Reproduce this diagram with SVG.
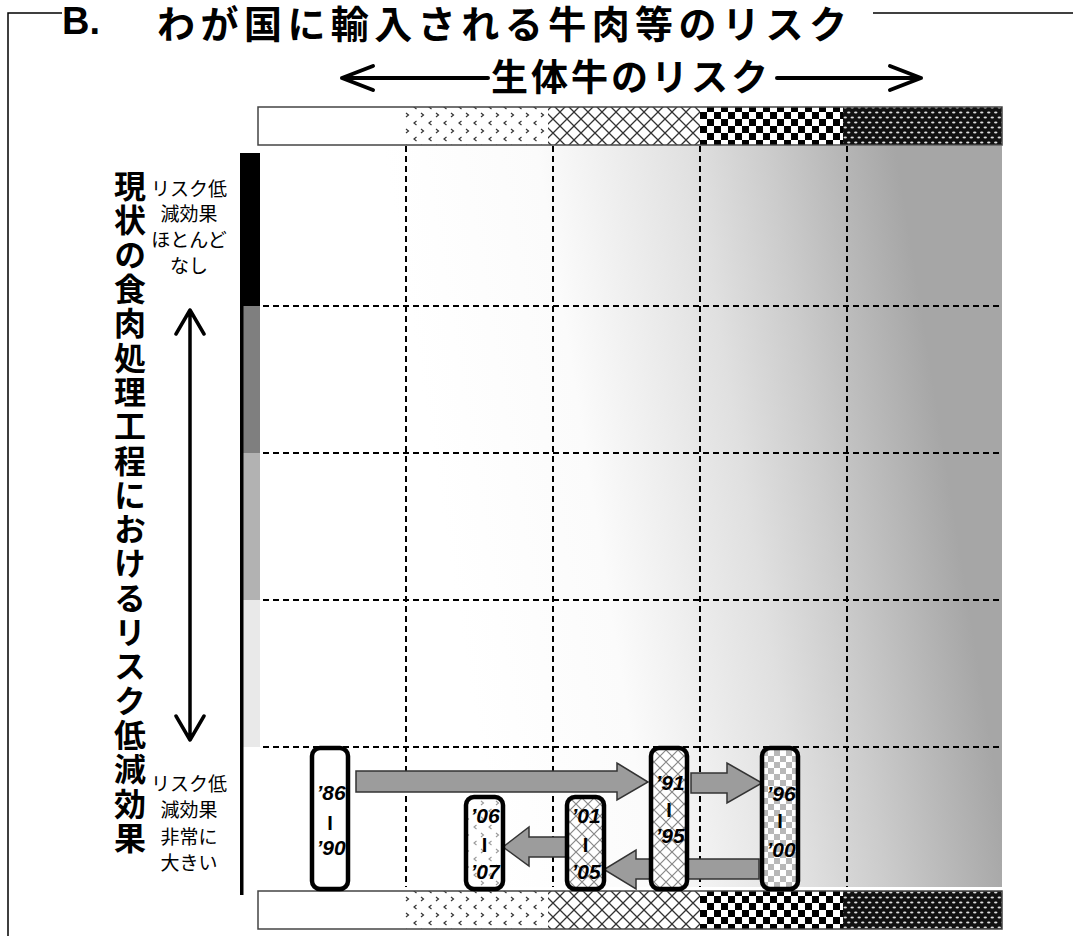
<svg xmlns="http://www.w3.org/2000/svg" width="1073" height="936" viewBox="0 0 1073 936">
<style>
.jp{font-family:"Noto Sans CJK JP","Noto Sans CJK SC",sans-serif}
.b{font-weight:bold}
.sm{font-size:19px;text-anchor:middle}
.yr{font-family:"Liberation Sans",Arial,sans-serif;font-weight:bold;font-style:italic;font-size:21px;text-anchor:middle}
.bar{font-family:"Liberation Sans",Arial,sans-serif;font-weight:bold;font-size:20px;text-anchor:middle}
.node{stroke:#000;stroke-width:4.5}
.blk{fill:#9c9c9c;stroke:#333;stroke-width:1.5;stroke-linejoin:miter}
.grid{stroke:#000;stroke-width:2;stroke-dasharray:6 4;fill:none}
.frame{stroke:#000;stroke-width:1.5;fill:none}
.arw{stroke:#000;stroke-width:4;fill:none;stroke-linecap:round;stroke-linejoin:round}
.band{stroke:#444;stroke-width:1.5}
</style>
<defs>
<linearGradient id="bg" gradientUnits="userSpaceOnUse" x1="500" y1="880" x2="1000" y2="800">
<stop offset="0" stop-color="#ffffff"/>
<stop offset="0.3" stop-color="#fbfbfb"/>
<stop offset="0.6" stop-color="#e0e0e0"/>
<stop offset="0.75" stop-color="#cccccc"/>
<stop offset="1" stop-color="#a6a6a6"/>
</linearGradient>
<pattern id="pChev" width="15" height="16" patternUnits="userSpaceOnUse">
<rect width="15" height="16" fill="#fff"/>
<path d="M1,1 L3.5,3 L1,5 M11.5,9 L9,11 L11.5,13" stroke="#333" stroke-width="1.2" fill="none"/>
</pattern>
<pattern id="pChevL" width="15" height="16" patternUnits="userSpaceOnUse">
<rect width="15" height="16" fill="#fff"/>
<path d="M1,1 L3.5,3 L1,5 M11.5,9 L9,11 L11.5,13" stroke="#999" stroke-width="1.1" fill="none"/>
</pattern>
<pattern id="pDiam" width="14" height="14" patternUnits="userSpaceOnUse">
<rect width="14" height="14" fill="#fff"/>
<path d="M0,0 L14,14 M14,0 L0,14" stroke="#333" stroke-width="1.3"/>
</pattern>
<pattern id="pDiamL" width="12" height="12" patternUnits="userSpaceOnUse">
<rect width="12" height="12" fill="#fff"/>
<path d="M0,0 L12,12 M12,0 L0,12" stroke="#888" stroke-width="1.2"/>
</pattern>
<pattern id="pCheck" width="14" height="14" patternUnits="userSpaceOnUse">
<rect width="14" height="14" fill="#fff"/>
<rect width="7" height="7" fill="#000"/>
<rect x="7" y="7" width="7" height="7" fill="#000"/>
</pattern>
<pattern id="pCheckL" width="12" height="12" patternUnits="userSpaceOnUse">
<rect width="12" height="12" fill="#fff"/>
<rect width="6" height="6" fill="#b8b8b8"/>
<rect x="6" y="6" width="6" height="6" fill="#b8b8b8"/>
</pattern>
<pattern id="pDots" width="7" height="10" patternUnits="userSpaceOnUse">
<rect width="7" height="10" fill="#111"/>
<ellipse cx="1.75" cy="2.5" rx="1.7" ry="1.1" fill="#ddd"/>
<ellipse cx="5.25" cy="7.5" rx="1.7" ry="1.1" fill="#ddd"/>
</pattern>
</defs>

<g id="frame">
<path class="frame" d="M8,936 V13 H62"/>
<path class="frame" d="M873,13 H1073"/>
<text x="62" y="34" font-family="Liberation Sans, Arial, sans-serif" font-weight="bold" font-size="38">B.</text>
<text class="jp b" x="157" y="38" font-size="38" textLength="690" lengthAdjust="spacing">わが国に輸入される牛肉等のリスク</text>
</g>

<g id="header">
<path class="arw" d="M342,78 H488 M373,66 L342,78 L373,90"/>
<text class="jp b" x="491" y="91" font-size="37" textLength="277" lengthAdjust="spacing">生体牛のリスク</text>
<path class="arw" d="M777,78 H921 M890,66 L921,78 L890,90"/>
</g>

<g id="topbar">
<rect x="258" y="107" width="147" height="38" fill="#fff"/>
<rect x="405" y="107" width="143" height="38" fill="url(#pChev)"/>
<rect x="548" y="107" width="152" height="38" fill="url(#pDiam)"/>
<rect x="700" y="107" width="143" height="38" fill="url(#pCheck)"/>
<rect x="843" y="107" width="159" height="38" fill="url(#pDots)"/>
<rect class="band" x="258" y="107" width="744" height="38" fill="none"/>
</g>

<g id="bottombar">
<rect x="258" y="891" width="147" height="38" fill="#fff"/>
<rect x="405" y="891" width="143" height="38" fill="url(#pChev)"/>
<rect x="548" y="891" width="152" height="38" fill="url(#pDiam)"/>
<rect x="700" y="891" width="143" height="38" fill="url(#pCheck)"/>
<rect x="843" y="891" width="159" height="38" fill="url(#pDots)"/>
<rect class="band" x="258" y="891" width="744" height="38" fill="none"/>
</g>

<g id="field">
<rect x="260" y="146" width="742" height="741" fill="url(#bg)"/>
<path class="grid" d="M406,146 V887 M553,146 V887 M700,146 V887 M847,146 V887"/>
<path class="grid" d="M263,306 H1000 M263,453 H1000 M263,600 H1000 M263,747 H1000"/>
</g>

<g id="yscale">
<rect x="240" y="153" width="20" height="153" fill="#000"/>
<rect x="243" y="306" width="17" height="147" fill="#7f7f7f"/>
<rect x="243" y="453" width="17" height="147" fill="#b2b2b2"/>
<rect x="243" y="600" width="17" height="147" fill="#e9e9e9"/>
<rect x="240" y="153" width="3.5" height="742" fill="#000"/>
</g>

<g id="ylabel">
<text class="jp b" x="130" y="170" font-size="32" letter-spacing="2.3" style="writing-mode:vertical-rl">現状の食肉処理工程におけるリスク低減効果</text>
<path class="arw" style="stroke-width:3.5" d="M190,310 V740 M176,334 L190,310 L204,334 M176,716 L190,740 L204,716"/>
<text class="jp sm" x="189"><tspan x="189" y="196">リスク低</tspan><tspan x="189" y="221">減効果</tspan><tspan x="189" y="247">ほとんど</tspan><tspan x="189" y="273">なし</tspan></text>
<text class="jp sm" x="189"><tspan x="189" y="791">リスク低</tspan><tspan x="189" y="817">減効果</tspan><tspan x="189" y="844">非常に</tspan><tspan x="189" y="870">大きい</tspan></text>
</g>

<g id="connectors">
<path class="blk" d="M356,771 H617 V763 L648,782 L617,800 V792 H356 Z"/>
<path class="blk" d="M691,773 H727 V763 L762,783 L727,803 V793 H691 Z"/>
<path class="blk" d="M759,859 H636 V850 L604,869.5 L636,889 V879 H759 Z"/>
<path class="blk" d="M567,837 H529 V827 L503,847 L529,866 V857 H567 Z"/>
</g>

<g id="n1986">
<rect class="node" x="312" y="748" width="36" height="141" rx="8" fill="#fff"/>
<text class="yr" x="331" y="800">’86</text>
<text class="bar" x="330" y="830">I</text>
<text class="yr" x="331" y="855">’90</text>
</g>
<g id="n1991">
<rect class="node" x="651" y="748" width="36" height="141" rx="8" fill="url(#pDiamL)"/>
<text class="yr" x="670" y="790">’91</text>
<text class="bar" x="669" y="817">I</text>
<text class="yr" x="670" y="843">’95</text>
</g>
<g id="n1996">
<rect class="node" x="762" y="748" width="36" height="141" rx="8" fill="url(#pCheckL)"/>
<text class="yr" x="781" y="801">’96</text>
<text class="bar" x="780" y="828">I</text>
<text class="yr" x="781" y="857">’00</text>
</g>
<g id="n2001">
<rect class="node" x="567" y="797" width="37" height="92" rx="8" fill="url(#pDiamL)"/>
<text class="yr" x="586" y="823">’01</text>
<text class="bar" x="585.5" y="852">I</text>
<text class="yr" x="586" y="879">’05</text>
</g>
<g id="n2006">
<rect class="node" x="466" y="797" width="37" height="92" rx="8" fill="url(#pChevL)"/>
<text class="yr" x="485" y="823">’06</text>
<text class="bar" x="484.5" y="852">I</text>
<text class="yr" x="485" y="879">’07</text>
</g>
</svg>
